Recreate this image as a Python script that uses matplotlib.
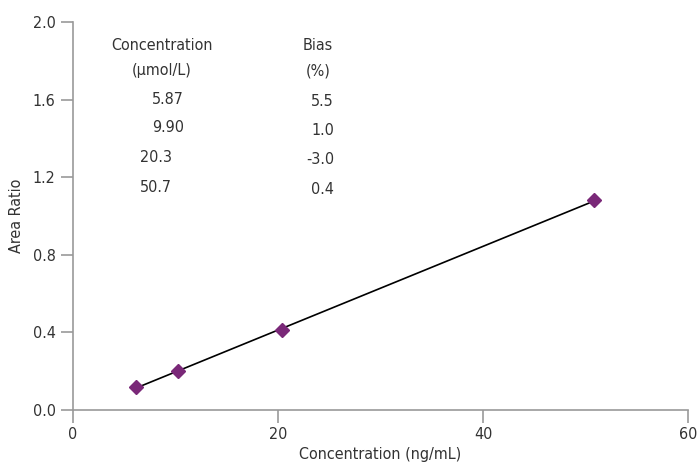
import numpy as np
import matplotlib.pyplot as plt

plt.rcParams['font.family'] = ['DejaVu Sans']
plt.rcParams['font.stretch'] = 'condensed'

# calibration data
conc = [6.1, 10.2, 20.4, 50.8]
ratio = [0.12, 0.20, 0.41, 1.08]

# table in the upper left
tab_conc = ["5.87", "9.90", "20.3", "50.7"]
tab_bias = ["5.5", "1.0", "-3.0", "0.4"]

W, H = 699, 470
fig = plt.figure(figsize=(W / 100, H / 100), dpi=100)
ax = fig.add_axes([73 / W, 60 / H, 615 / W, 388 / H])

# regression line over the data range
k, b = np.polyfit(conc, ratio, 1)
xs = np.array([min(conc), max(conc)])
ax.plot(xs, k * xs + b, color='black', lw=1.2, zorder=2)
ax.plot(conc, ratio, 'D', color='#7a2878', ms=7, mec='#7a2878', zorder=3)

ax.set_xlim(0, 60)
ax.set_ylim(0, 2.0)
ax.set_xticks([0, 20, 40, 60])
ax.set_yticks([0, 0.4, 0.8, 1.2, 1.6, 2.0])
ax.yaxis.set_major_formatter(plt.FormatStrFormatter('%.1f'))
for s in ['top', 'right']:
    ax.spines[s].set_visible(False)
for s in ['left', 'bottom']:
    ax.spines[s].set_color('#999999')
    ax.spines[s].set_linewidth(1.2)
ax.tick_params(colors='#999999', labelcolor='#333333', labelsize=11.5, length=9, width=1.2)
ax.set_xlabel('Concentration (ng/mL)', fontsize=11.5, color='#333333', labelpad=3)
ax.set_ylabel('Area Ratio', fontsize=11.5, color='#333333', labelpad=6)

def fx(px):
    return px / W

def fy(py):
    return 1 - py / H

tc = '#333333'
fig.text(fx(162), fy(46), 'Concentration', ha='center', va='center', fontsize=11.5, color=tc)
fig.text(fx(162), fy(71), '(µmol/L)', ha='center', va='center', fontsize=11.5, color=tc)
fig.text(fx(318), fy(46), 'Bias', ha='center', va='center', fontsize=11.5, color=tc)
fig.text(fx(318), fy(71), '(%)', ha='center', va='center', fontsize=11.5, color=tc)
rows_y = [99, 128, 158, 188]
for i, (c, bb) in enumerate(zip(tab_conc, tab_bias)):
    xc = 168 if i < 2 else 156
    fig.text(fx(xc), fy(rows_y[i]), c, ha='center', va='center', fontsize=11.5, color=tc)
    fig.text(fx(334), fy(rows_y[i] + 2), bb, ha='right', va='center', fontsize=11.5, color=tc)

fig.savefig('out.png', dpi=100)
